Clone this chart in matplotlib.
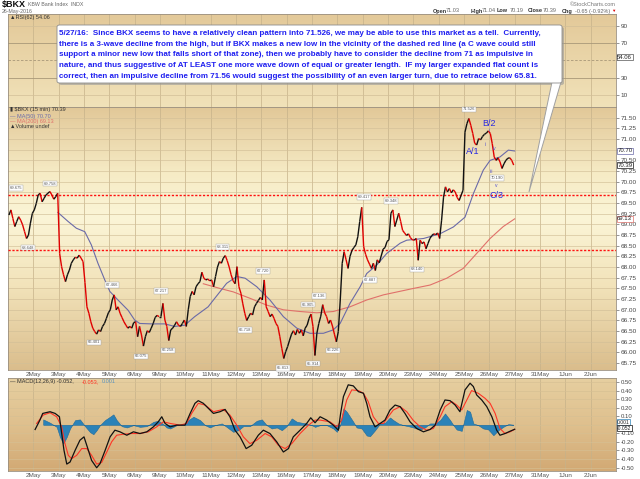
import numpy as np
import matplotlib.pyplot as plt
from matplotlib.colors import LinearSegmentedColormap
from matplotlib.collections import LineCollection
from matplotlib.patches import FancyBboxPatch, Polygon
from matplotlib.transforms import blended_transform_factory

plt.rcParams['font.family'] = ['Liberation Sans', 'DejaVu Sans']

day_labels = ['2May', '3May', '4May', '5May', '6May', '9May', '10May', '11May', '12May',
              '13May', '16May', '17May', '18May', '19May', '20May', '23May', '24May',
              '25May', '26May', '27May', '31May', '1Jun', '2Jun']

# 29Apr .. 6May
closes_wk1 = [69.22, 69.34, 69.14, 68.95, 69.07, 69.18, 69.10, 68.99, 68.83, 68.67, 68.75, 69.03, 69.26,
              69.34, 69.49, 69.69, 69.73, 69.53, 69.61, 69.69, 69.73, 69.77, 69.69, 69.59, 69.65, 69.73,
              68.32, 68.01, 67.82, 67.66, 67.82, 67.93, 68.09, 68.17, 68.23, 68.21, 68.28, 68.21, 68.13,
              67.64, 67.07, 66.92, 66.72, 66.57, 66.49, 66.43, 66.53, 66.49, 66.61, 66.68, 66.80, 66.93,
              67.00, 67.23, 67.35, 67.00, 67.07, 66.92, 66.82, 66.72, 66.64, 66.57, 66.61, 66.57, 66.70,
              66.72, 66.37, 66.61, 66.41, 66.15, 66.37, 66.51, 66.47, 66.57, 66.68, 66.82, 66.87, 66.84]
# 9May .. 13May
closes_wk2 = [66.84, 67.15, 66.76, 66.61, 66.28, 66.53, 66.57, 66.64, 66.72, 66.64, 66.61, 66.68, 66.76,
              66.61, 67.00, 67.31, 67.43, 67.35, 67.54, 67.61, 67.66, 67.88, 67.74, 67.70, 67.72, 67.68,
              67.70, 67.54, 67.78, 68.00, 68.13, 68.09, 68.21, 68.27, 68.15, 68.00, 67.82, 67.68, 67.61,
              68.01, 67.54, 67.39, 67.14, 66.92, 66.75, 66.84, 66.92, 66.88, 67.07, 67.15, 67.22, 67.29,
              67.23, 67.70, 67.07, 66.96, 66.84, 66.90, 66.80, 66.68, 66.61, 66.37, 66.10, 65.86, 66.02]
# 16May .. 20May
closes_wk3 = [66.14, 66.29, 66.43, 66.51, 66.41, 66.54, 66.45, 66.53, 66.39, 66.57, 66.64, 66.80, 66.90,
              66.61, 65.93, 66.45, 66.68, 66.85, 67.12, 66.93, 66.84, 66.68, 66.76, 66.62, 66.43, 66.25,
              66.49, 67.23, 68.09, 68.36, 68.17, 67.97, 68.25, 68.39, 68.46, 68.52, 68.71, 69.07, 69.40,
              68.48, 68.30, 68.17, 68.07, 67.97, 68.09, 67.92, 68.17, 68.10, 68.26, 68.42, 68.46, 68.60,
              68.64, 69.26, 69.34, 68.95, 69.10, 69.26, 69.07, 68.86, 68.80, 68.74, 68.78, 68.69, 68.64]
# 23May .. 26May
closes_wk4 = [68.63, 68.67, 68.16, 68.63, 68.55, 68.59, 68.43, 68.55, 68.67, 68.74, 68.78, 68.76, 68.80,
              68.67, 69.10, 69.64, 69.88, 69.76, 69.84, 69.74, 69.81, 69.76, 69.63, 69.56, 69.68, 69.80,
              71.16, 71.36, 71.48, 71.32, 71.13, 70.90, 70.86, 71.01, 70.98, 71.06, 71.11, 71.14, 71.19,
              71.13, 70.89, 70.58, 70.50, 70.56, 70.46, 70.31, 70.42, 70.50, 70.55, 70.56, 70.50, 70.39]

# moving averages: (session offset, value)
ma50_t = [1.97, 2.37, 2.70, 3.03, 3.29, 3.55, 3.82, 4.02, 4.34, 4.74, 5.00, 5.20, 5.66, 6.19, 6.58,
          6.98, 7.37, 7.90, 8.11, 8.63, 9.03, 9.36, 9.82, 10.34, 10.87, 11.40, 11.92, 12.45, 12.84,
          13.11, 13.50, 13.90, 14.16, 14.56, 14.95, 15.48, 15.74, 16.40, 17.05, 17.58, 18.04, 18.37,
          18.76, 19.03, 19.42, 19.75, 20.0]
ma50_v = [69.28, 69.07, 68.91, 68.83, 68.52, 68.09, 67.70, 67.43, 67.23, 66.99, 66.76, 66.68, 66.67,
          66.67, 66.61, 66.64, 66.84, 67.07, 67.23, 67.62, 67.78, 67.74, 67.54, 67.23, 66.84, 66.57,
          66.45, 66.45, 66.53, 66.68, 67.15, 67.54, 67.85, 68.05, 68.32, 68.56, 68.63, 68.67, 68.78,
          68.94, 69.17, 69.72, 70.27, 70.50, 70.58, 70.74, 70.72]
ma200_t = [7.71, 8.37, 8.89, 9.55, 10.21, 10.87, 11.53, 12.19, 12.84, 13.50, 14.16, 14.82, 16.00,
           16.66, 17.32, 17.97, 18.50, 19.03, 19.55, 20.0]
ma200_v = [67.61, 67.50, 67.42, 67.27, 67.11, 67.00, 66.96, 66.93, 66.96, 67.07, 67.23, 67.35, 67.50,
           67.58, 67.74, 67.97, 68.32, 68.67, 68.95, 69.13]

# MACD(12,26,9)
macd_t = [1.07, 1.26, 1.37, 1.66, 1.86, 2.03, 2.12, 2.21, 2.32, 2.45, 2.65, 2.84, 3.00, 3.13, 3.30,
          3.50, 3.63, 3.83, 4.03, 4.22, 4.42, 4.69, 4.95, 5.21, 5.48, 5.74, 5.93, 6.07, 6.20, 6.40,
          6.66, 6.99, 7.19, 7.38, 7.51, 7.71, 8.11, 8.37, 8.57, 8.76, 8.96, 9.16, 9.40, 9.62, 9.88,
          10.08, 10.34, 10.61, 10.87, 11.07, 11.26, 11.53, 11.79, 11.95, 12.12, 12.32, 12.58, 12.84,
          13.04, 13.13, 13.24, 13.43, 13.63, 13.83, 14.03, 14.16, 14.29, 14.49, 14.69, 14.88, 15.08,
          15.28, 15.48, 15.67, 15.87, 16.13, 16.40, 16.66, 16.86, 17.06, 17.25, 17.45, 17.65, 17.84,
          18.04, 18.24, 18.37, 18.50, 18.70, 18.90, 19.10, 19.29, 19.42, 19.62, 19.82, 20.0]
macd_v = [-0.055, 0.055, 0.133, 0.153, 0.133, 0.094, -0.102, -0.298, -0.459, -0.435, -0.298, -0.180,
          -0.141, -0.259, -0.416, -0.502, -0.455, -0.302, -0.141, -0.063, -0.082, -0.122, -0.082,
          -0.102, -0.082, -0.024, 0.035, 0.094, 0.016, -0.024, -0.004, -0.004, 0.133, 0.251, 0.282,
          0.251, 0.133, 0.153, 0.180, 0.094, -0.063, -0.141, -0.278, -0.239, -0.122, -0.063, -0.102,
          -0.200, -0.318, -0.278, -0.141, -0.063, 0.016, 0.082, 0.024, 0.094, 0.055, -0.004, -0.063,
          0.133, 0.329, 0.467, 0.455, 0.388, 0.369, 0.251, 0.094, -0.024, 0.016, 0.055, 0.173, 0.231,
          0.212, 0.133, 0.035, -0.043, -0.082, -0.055, -0.004, 0.173, 0.290, 0.282, 0.231, 0.153,
          0.408, 0.486, 0.447, 0.349, 0.290, 0.212, 0.094, -0.063, -0.122, -0.102, -0.075, -0.052]
signal_t = [1.13, 1.39, 1.66, 1.92, 2.12, 2.25, 2.38, 2.51, 2.71, 2.91, 3.11, 3.30, 3.50, 3.70, 3.90,
            4.09, 4.29, 4.55, 4.88, 5.21, 5.54, 5.87, 6.13, 6.40, 6.79, 7.05, 7.25, 7.51, 7.78, 8.11,
            8.50, 8.76, 9.03, 9.29, 9.55, 9.82, 10.15, 10.41, 10.67, 10.94, 11.20, 11.53, 11.86, 12.12,
            12.32, 12.71, 12.98, 13.17, 13.37, 13.57, 13.83, 14.03, 14.22, 14.42, 14.62, 14.82, 15.01,
            15.21, 15.48, 15.74, 16.00, 16.27, 16.53, 16.79, 17.06, 17.25, 17.52, 17.71, 17.91, 18.11,
            18.30, 18.56, 18.83, 19.03, 19.23, 19.42, 19.62, 19.82, 20.0]
signal_v = [0.016, 0.114, 0.141, 0.094, -0.024, -0.220, -0.357, -0.396, -0.357, -0.278, -0.278,
            -0.357, -0.459, -0.439, -0.318, -0.200, -0.122, -0.110, -0.102, -0.102, -0.082, -0.024,
            0.035, 0.016, -0.004, 0.016, 0.133, 0.251, 0.231, 0.153, 0.180, 0.114, -0.004, -0.141,
            -0.220, -0.180, -0.102, -0.141, -0.239, -0.278, -0.220, -0.102, -0.004, 0.055, 0.055,
            0.035, -0.024, 0.055, 0.290, 0.408, 0.400, 0.369, 0.271, 0.094, 0.016, 0.016, 0.094,
            0.173, 0.212, 0.153, 0.051, -0.024, -0.063, -0.043, 0.094, 0.212, 0.271, 0.231, 0.173,
            0.290, 0.400, 0.369, 0.310, 0.251, 0.133, -0.043, -0.102, -0.082, -0.053]
hist_t = [1.39, 1.66, 1.92, 2.05, 2.18, 2.32, 2.45, 2.65, 2.84, 3.04, 3.24, 3.37, 3.50, 3.63, 3.83,
          4.03, 4.16, 4.29, 4.49, 4.69, 4.95, 5.21, 5.48, 5.74, 5.93, 6.13, 6.26, 6.40, 6.66, 6.92,
          7.12, 7.32, 7.58, 7.78, 7.97, 8.17, 8.44, 8.63, 8.89, 9.09, 9.29, 9.55, 9.82, 10.02, 10.21,
          10.41, 10.61, 10.81, 11.00, 11.20, 11.40, 11.60, 11.79, 11.99, 12.12, 12.32, 12.58, 12.84,
          12.98, 13.11, 13.24, 13.37, 13.50, 13.63, 13.76, 13.96, 14.16, 14.29, 14.49, 14.69, 14.88,
          15.08, 15.21, 15.41, 15.61, 15.80, 16.00, 16.27, 16.46, 16.66, 16.86, 17.06, 17.25, 17.45,
          17.58, 17.71, 17.91, 18.11, 18.24, 18.37, 18.56, 18.76, 18.96, 19.16, 19.36, 19.55, 19.75,
          19.95]
hist_v = [0.063, 0.024, -0.024, -0.141, -0.220, -0.141, -0.043, 0.055, 0.063, -0.016, -0.086, -0.110,
          -0.063, -0.004, 0.055, 0.094, 0.122, 0.055, -0.016, -0.031, -0.004, -0.024, -0.016, 0.035,
          0.047, 0.008, -0.031, -0.043, -0.004, 0.008, 0.055, 0.094, 0.055, -0.004, -0.031, -0.004,
          0.016, -0.024, -0.082, -0.063, -0.016, -0.016, 0.047, 0.063, -0.004, -0.043, -0.031, -0.063,
          -0.016, 0.075, 0.035, 0.024, 0.016, -0.004, -0.024, -0.004, -0.004, -0.043, -0.082, -0.004,
          0.192, 0.153, 0.094, 0.035, -0.031, -0.043, -0.125, -0.133, -0.063, 0.016, 0.024, 0.086,
          0.055, 0.016, -0.004, -0.016, -0.031, -0.055, -0.031, 0.016, 0.016, 0.055, 0.133, 0.055,
          -0.004, -0.055, -0.071, 0.173, 0.153, 0.016, -0.004, -0.043, -0.055, -0.122, -0.063, -0.024,
          0.008, 0.001]

# swing point labels: (session offset, price, text, above?)
swing_labels = [(0.79, 68.65, '68.648', False), (1.65, 69.76, '69.758', True),
                (3.40, 66.43, '66.401', False), (4.11, 67.39, '67.466', True),
                (5.24, 66.10, '66.075', False), (6.03, 67.25, '67.217', True),
                (6.32, 66.24, '66.258', False), (8.47, 68.28, '68.311', True),
                (9.36, 66.72, '66.718', False), (10.08, 67.72, '67.720', True),
                (10.84, 65.83, '65.813', False), (11.86, 66.93, '66.905', True),
                (12.05, 65.93, '65.914', False), (12.29, 67.13, '67.136', True),
                (12.84, 66.24, '66.226', False), (14.07, 69.45, '69.417', True),
                (14.29, 67.89, '67.887', False), (15.12, 69.35, '69.348', True),
                (16.13, 68.14, '68.140', False), (18.20, 71.50, '71.526', True),
                (19.29, 70.28, '70.190', False)]
wave_big = [(18.35, 70.70, 'A/1'), (18.99, 71.36, 'B/2'), (19.27, 69.68, 'C/3')]
wave_small = [(18.83, 70.88, 'i'), (19.03, 71.20, 'ii'), (19.07, 70.23, 'iii'),
              (19.20, 70.77, 'iv'), (19.27, 69.90, 'v')]
dashed_levels = [69.68, 68.39]

note_lines = [
    '5/27/16:  Since BKX seems to have a relatively clean pattern into 71.526, we may be able to use this market as a tell.  Currently,',
    'there is a 3-wave decline from the high, but if BKX makes a new low in the vicinity of the dashed red line (a C wave could still',
    'support a minor new low that falls short of that zone), then we probably have to consider the decline from 71 as impulsive in',
    'nature, and thus suggestive of AT LEAST one more wave down of equal or greater length.  IF my larger expanded flat count is',
    'correct, then an impulsive decline from 71.56 would suggest the possibility of an even larger turn, due to retrace below 65.81.',
]

# ---- layout helpers (pixel based) ----
W, H = 640, 479
fig = plt.figure(figsize=(W / 100, H / 100), dpi=100)
fig.patch.set_facecolor('white')


def rect(x0, y0, x1, y1):
    return [x0 / W, 1 - y1 / H, (x1 - x0) / W, (y1 - y0) / H]


def ftext(x, y, s, **kw):
    return fig.text(x / W, 1 - y / H, s, va='center', **kw)


def gradient(ax, stops):
    cmap = LinearSegmentedColormap.from_list('bg', stops)
    ax.imshow(np.linspace(0, 1, 256).reshape(-1, 1), aspect='auto', cmap=cmap,
              extent=(0, 1, 0, 1), transform=ax.transAxes, zorder=0)


def style_panel(ax, ysize=4.6):
    for s in ax.spines.values():
        s.set_color('#9a8f80')
        s.set_linewidth(0.6)
    ax.yaxis.tick_right()
    ax.tick_params(axis='y', labelsize=ysize, colors='#444444', length=2, width=0.4, pad=1.5)
    ax.tick_params(axis='x', labelsize=4.6, colors='#555555', length=0, pad=1.5)
    ax.set_xlim(0, 24)
    ax.set_xticks(range(1, 24))
    for d in range(1, 24):
        ax.axvline(d, color='#c6b28a', lw=0.5, zorder=1)


grid_col = '#d2bf98'

# ---- RSI panel (covered by note) ----
ax_rsi = fig.add_axes(rect(8, 14, 616, 107))
gradient(ax_rsi, [(0, '#e3c999'), (1, '#f1e2b9')])
style_panel(ax_rsi)
ax_rsi.set_xticklabels([])
for lv in [10, 90]:
    ax_rsi.axhline(lv, color=grid_col, lw=0.5, zorder=1)
for lv in [30, 70]:
    ax_rsi.axhline(lv, color='#a89878', lw=0.6, zorder=1)
ax_rsi.axhline(50, color='#a89878', lw=0.6, ls=(0, (3, 2)), zorder=1)
ax_rsi.set_ylim(-4, 104)
ax_rsi.set_yticks([10, 30, 50, 70, 90])
ax_rsi.set_yticklabels(['10', '30', '', '70', '90'])

# ---- price panel ----
ax = fig.add_axes(rect(8, 107, 616, 370))
gradient(ax, [(0, '#e2c898'), (0.25, '#f6ebc5'), (0.42, '#fbf5d7'), (0.68, '#f2e3ba'), (1, '#dabd8c')])
style_panel(ax)
ax.set_xticklabels(day_labels)
price_ticks = np.arange(65.75, 71.51, 0.25)
for lv in price_ticks:
    ax.axhline(lv, color=grid_col, lw=0.45, zorder=1)
ax.set_yticks(price_ticks)
# the 70.75 slot is covered by the MA(50) value box
ax.set_yticklabels(['' if abs(v - 70.75) < 1e-6 else f'{v:.2f}' for v in price_ticks])

for lv in dashed_levels:
    ax.axhline(lv, color='#ff1010', lw=1.0, ls=(0, (1.6, 1.2)), zorder=3)

ax.plot(ma200_t, ma200_v, color='#e0706a', lw=0.8, zorder=3)
ax.plot(ma50_t, ma50_v, color='#6a6aa8', lw=0.8, zorder=3)

closes = np.array(closes_wk1 + closes_wk2 + closes_wk3 + closes_wk4)
tt = (np.arange(len(closes)) + 0.5) / 13
segs = np.stack([np.column_stack([tt[:-1], closes[:-1]]),
                 np.column_stack([tt[1:], closes[1:]])], axis=1)
seg_cols = np.where(closes[1:] < closes[:-1], '#e00000', '#111111')
ax.add_collection(LineCollection(segs, colors=seg_cols, linewidths=1.0, zorder=4))

for t, p, s, up in swing_labels:
    ax.annotate(s, (t, p), xytext=(0, 4.5 if up else -4.5), textcoords='offset points',
                ha='center', va='bottom' if up else 'top', fontsize=3.0, color='#555555', zorder=6,
                bbox=dict(boxstyle='square,pad=0.18', fc='white', ec='#a0a0a0', lw=0.3))
ax.annotate('69.675', (0, 69.68), xytext=(1, 4), textcoords='offset points', ha='left',
            va='bottom', fontsize=3.0, color='#555555', zorder=6,
            bbox=dict(boxstyle='square,pad=0.18', fc='white', ec='#a0a0a0', lw=0.3))
for t, p, s in wave_big:
    ax.text(t, p, s, ha='center', va='center', fontsize=6.5, color='#2a2ae0', zorder=7)
for t, p, s in wave_small:
    ax.text(t, p, s, ha='center', va='center', fontsize=3.6, color='#5050d0', zorder=7)
ax.set_ylim(65.59, 71.75)
ax.set_xlim(0, 24)

# ---- MACD panel ----
axm = fig.add_axes(rect(8, 378, 616, 471))
gradient(axm, [(0, '#e6cfa0'), (0.5, '#dfc08e'), (1, '#d2a974')])
style_panel(axm, ysize=4.3)
axm.set_xticklabels(day_labels)
macd_ticks = np.arange(-0.5, 0.51, 0.1)
for lv in macd_ticks:
    axm.axhline(lv, color='#d6bf93', lw=0.45, zorder=1)
axm.set_yticks(macd_ticks)
# 0.00 slot is covered by the value boxes
axm.set_yticklabels(['' if abs(v) < 1e-6 else f'{v:.2f}' for v in macd_ticks])
axm.fill_between(hist_t, 0, hist_v, color='#2b82b8', lw=0.4, ec='#1f6a9a', zorder=2)
axm.plot(signal_t, signal_v, color='#ff3526', lw=0.8, zorder=3)
axm.plot(macd_t, macd_v, color='#111111', lw=0.9, zorder=4)
axm.set_ylim(-0.54, 0.547)
axm.set_xlim(0, 24)


# ---- right-axis value boxes ----
def value_box(a, v, s, ec, size=4.3):
    tr = blended_transform_factory(a.transAxes, a.transData)
    a.text(1.002, v, s, transform=tr, ha='left', va='center', fontsize=size, color='#222222',
           zorder=8, clip_on=False,
           bbox=dict(boxstyle='square,pad=0.1', fc='white', ec=ec, lw=0.5))


value_box(ax_rsi, 54.06, '54.06', '#555555')
value_box(ax, 70.72, '70.70', '#6a6aa8')
value_box(ax, 70.39, '70.39', '#111111')
value_box(ax, 69.13, '69.13', '#e0706a')
value_box(axm, 0.028, '0.001', '#2b82b8', 3.6)
value_box(axm, -0.038, '-0.052', '#111111', 3.6)

# ---- note box with pointer ----
fig.add_artist(FancyBboxPatch((59 / W, 1 - 85 / H), 505 / W, 58 / H,
                              boxstyle='round,pad=0,rounding_size=0.004', transform=fig.transFigure,
                              fc='#9a9a9a', ec='none', alpha=0.6, zorder=9))
fig.add_artist(Polygon([(552 / W, 1 - 82 / H), (561 / W, 1 - 82 / H), (529 / W, 1 - 192 / H)],
                       closed=True, transform=fig.transFigure, fc='white', ec='#a0a0a0',
                       lw=0.7, zorder=9))
fig.add_artist(FancyBboxPatch((57 / W, 1 - 83 / H), 505 / W, 58 / H,
                              boxstyle='round,pad=0,rounding_size=0.004', transform=fig.transFigure,
                              fc='white', ec='#8c8c8c', lw=0.6, zorder=10))
for i, line in enumerate(note_lines):
    ftext(59, 33.3 + i * 10.7, line, ha='left', fontsize=5.8, color='#1f1ff0',
          fontweight='bold', zorder=11)

# ---- headers and legends ----
ftext(2, 5, r'\$BKX', ha='left', fontsize=6.5, fontweight='bold', color='#111111')
ftext(28, 5, 'KBW Bank Index  INDX', ha='left', fontsize=3.8, color='#666666')
ftext(2, 11, '26-May-2016', ha='left', fontsize=3.8, color='#666666')
ftext(616, 5, '©StockCharts.com', ha='right', fontsize=4.0, color='#777777')
hdr = [(433, 'Open', True), (446, '71.03', False), (471, 'High', True), (482, '71.04', False),
       (497, 'Low', True), (510, '70.19', False), (528, 'Close', True), (543, '70.39', False),
       (562, 'Chg', True), (575, '-0.65 (-0.92%)', False)]
for x, s, b in hdr:
    ftext(x, 11, s, ha='left', fontsize=4.0, color='#333333' if b else '#666666',
          fontweight='bold' if b else 'normal')
ftext(611, 11, '▼', ha='left', fontsize=3.2, color='#dd0000')

ftext(10, 18, '▲RSI(62) 54.06', ha='left', fontsize=4.0, color='#333333', zorder=12)
ftext(10, 110, r'▮ \$BKX (15 min) 70.39', ha='left', fontsize=4.0, color='#333333')
ftext(10, 116, '— MA(50) 70.70', ha='left', fontsize=4.0, color='#6a6aa8')
ftext(10, 121.5, '— MA(200) 69.13', ha='left', fontsize=4.0, color='#e0706a')
ftext(10, 127, '▲Volume undef', ha='left', fontsize=4.0, color='#333333')
ftext(10, 381.5, '— MACD(12,26,9) -0.052,', ha='left', fontsize=4.0, color='#333333')
ftext(82, 381.5, '-0.053,', ha='left', fontsize=4.0, color='#ff3526')
ftext(102, 381.5, '0.001', ha='left', fontsize=4.0, color='#5b94c0')

fig.savefig('out.png', dpi=100, facecolor='white')
